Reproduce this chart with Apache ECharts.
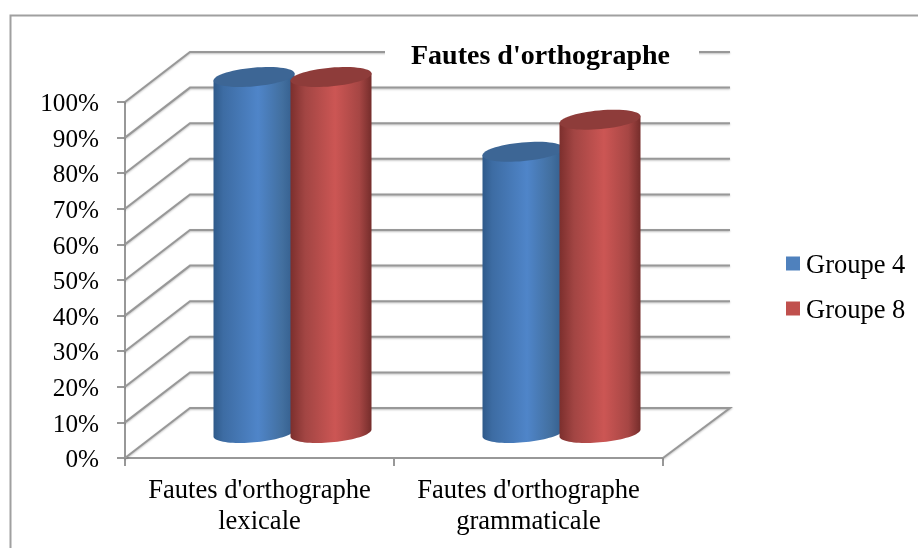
<!DOCTYPE html>
<html><head><meta charset="utf-8">
<style>html,body{margin:0;padding:0;background:#fff}#c{width:918px;height:548px}</style>
<script src="https://cdn.jsdelivr.net/npm/echarts@6/dist/echarts.min.js"></script>
</head><body><div id="c"></div>
<script>
const categories = ["Fautes d'orthographe\nlexicale", "Fautes d'orthographe\ngrammaticale"];
const group4 = [100, 79];
const group8 = [100, 88];
const yTicks = [0, 10, 20, 30, 40, 50, 60, 70, 80, 90, 100];

const FONT = '"Liberation Serif","Times New Roman",serif';
const GRID = '#989898';
const chart = echarts.init(document.getElementById('c'), null, {renderer: 'canvas'});

const DEPTH_X = 65, DEPTH_Y = 50, RIGHT_EXTRA = 2, BAR_SHIFT = 0.5;
const A = 40.66, B = 9.33, PHI = -5.2 * Math.PI / 180, SPACING = 77;

function ellipsePoints(cx, cy, from, to, n) {
  const pts = [];
  for (let i = 0; i <= n; i++) {
    const t = from + (to - from) * i / n;
    pts.push([
      cx + A * Math.cos(t) * Math.cos(PHI) - B * Math.sin(t) * Math.sin(PHI),
      cy + A * Math.cos(t) * Math.sin(PHI) + B * Math.sin(t) * Math.cos(PHI)
    ]);
  }
  return pts;
}
function cylinder(side, stops, topColor) {
  return function (params, api) {
    const top = api.coord([api.value(0), api.value(1)]);
    const base = api.coord([api.value(0), 0]);
    const cx = top[0] + DEPTH_X / 2 + BAR_SHIFT + side * SPACING / 2;
    const yt = top[1] - DEPTH_Y / 2, yb = base[1] - DEPTH_Y / 2;
    const t0 = Math.atan(-(B / A) * Math.tan(PHI));
    const lower = ellipsePoints(cx, yb, t0, t0 + Math.PI, 40);
    const upper = ellipsePoints(cx, yt, t0 + Math.PI, t0, 1);
    return {
      type: 'group',
      children: [
        {type: 'polygon', shape: {points: lower.concat(upper)},
          style: {fill: new echarts.graphic.LinearGradient(0, 0, 1, 0, stops)}},
        {type: 'polygon', shape: {points: ellipsePoints(cx, yt, 0, Math.PI * 2, 60)},
          style: {fill: topColor}}
      ]
    };
  };
}
const blueStops = [
  {offset: 0, color: '#2f5a8a'}, {offset: 0.12, color: '#3d6ca3'}, {offset: 0.55, color: '#4f85c9'},
  {offset: 0.85, color: '#426f9f'}, {offset: 1, color: '#335d8c'}];
const redStops = [
  {offset: 0, color: '#7c2f2d'}, {offset: 0.18, color: '#a24543'}, {offset: 0.55, color: '#cc5654'},
  {offset: 0.85, color: '#a64644'}, {offset: 1, color: '#752d2b'}];

chart.setOption({
  animation: false,
  backgroundColor: '#fff',
  textStyle: {fontFamily: FONT, color: '#000'},
  title: {
    text: "Fautes d'orthographe", left: 385, top: 39,
    padding: [4, 29, 4, 26], backgroundColor: '#fff',
    textStyle: {fontFamily: FONT, fontSize: 28, fontWeight: 'bold', color: '#000'}
  },
  legend: {
    data: ['Groupe 4', 'Groupe 8'], orient: 'vertical', left: 786, top: 253, padding: 0,
    itemWidth: 14, itemHeight: 14, itemGap: 18, icon: 'rect',
    formatter: '{t|{name}}',
    textStyle: {fontFamily: FONT, fontSize: 26.5, color: '#000',
      rich: {t: {fontFamily: FONT, fontSize: 26.5, color: '#000', padding: [6, 0, 0, 1]}}}
  },
  grid: {left: 125, right: 255, top: 102, height: 356, containLabel: false},
  xAxis: {
    type: 'category', data: categories,
    axisLine: {lineStyle: {color: GRID, width: 2}},
    axisTick: {show: true, length: 8, lineStyle: {color: GRID, width: 2}},
    axisLabel: {fontFamily: FONT, fontSize: 26.6, color: '#000', margin: 18, lineHeight: 31, interval: 0}
  },
  yAxis: {
    type: 'value', min: 0, max: 100, interval: 10,
    axisLine: {show: true, lineStyle: {color: GRID, width: 2}},
    axisTick: {show: true, length: 8, lineStyle: {color: GRID, width: 2}},
    axisLabel: {margin: 26, formatter: '{l|{value}%}',
      rich: {l: {fontFamily: FONT, fontSize: 25.2, color: '#000', padding: [5, 0, 0, 0]}}},
    splitLine: {show: false}
  },
  graphic: [{
    type: 'polyline', silent: true, z: -1,
    shape: {points: [[10.5, 560], [10.5, 15.5], [930, 15.5]]},
    style: {stroke: '#a0a0a0', lineWidth: 2, fill: null}
  }],
  series: [
    {
      name: 'walls', type: 'custom', silent: true, z: 1, clip: false,
      data: yTicks.map(v => [0, v]),
      renderItem(params, api) {
        const y = api.coord([0, api.value(1)])[1];
        const l = params.coordSys.x, r = l + params.coordSys.width;
        const pts = [[l, y], [l + DEPTH_X, y - DEPTH_Y], [r + DEPTH_X + RIGHT_EXTRA, y - DEPTH_Y]];
        if (api.value(1) === 0) pts.push([r, y]);
        return {type: 'polyline', shape: {points: pts},
          style: {stroke: GRID, lineWidth: 2, fill: null, lineJoin: 'miter',
            shadowColor: 'rgba(0,0,0,0.25)', shadowBlur: 2, shadowOffsetY: 1}};
      }
    },
    {
      name: 'Groupe 4', type: 'custom', z: 3, clip: false, itemStyle: {color: '#4f81bd'},
      data: group4.map((v, i) => [i, v]), renderItem: cylinder(-1, blueStops, '#3d6695')
    },
    {
      name: 'Groupe 8', type: 'custom', z: 4, clip: false, itemStyle: {color: '#c0504d'},
      data: group8.map((v, i) => [i, v]), renderItem: cylinder(1, redStops, '#8e3c3a')
    }
  ]
});
</script></body></html>
